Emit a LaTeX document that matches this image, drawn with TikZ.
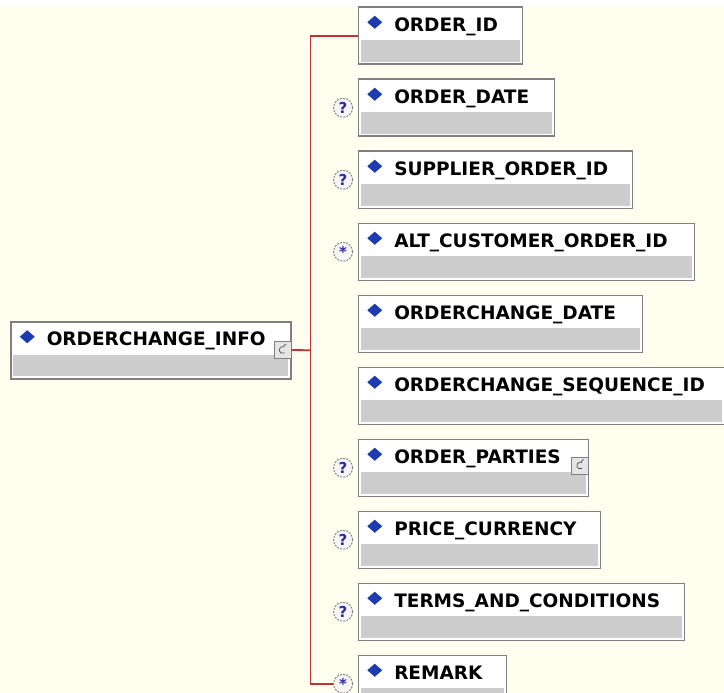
\documentclass[tikz,border=0pt]{standalone}
\usepackage{fontspec}
\setmainfont{DejaVu Sans}
\usetikzlibrary{positioning}
\definecolor{paper}{HTML}{FFFFF0}
\definecolor{frame}{HTML}{7F7F7F}
\definecolor{band}{HTML}{CDCDCD}
\definecolor{wire}{HTML}{C62F33}
\definecolor{dmd}{HTML}{1C3BB0}
\definecolor{mark}{HTML}{2B2B9C}
\hyphenpenalty=10000
\tikzset{
  elem/.style={rectangle, draw=frame, line width=1.5pt, fill=white, anchor=north west,
    inner xsep=0pt, inner ysep=0pt, text height=24pt, text depth=33pt,
    text width=#1, align=left, font=\bfseries\fontsize{18.5}{20}\selectfont,
    execute at begin node=\hspace*{36pt},
    path picture={
      \fill[band] ([xshift=2.5pt,yshift=2.5pt]path picture bounding box.south west)
        rectangle ([xshift=-2.5pt,yshift=-33pt]path picture bounding box.north east);
      \fill[dmd] ([xshift=9pt,yshift=-15pt]path picture bounding box.north west)
        -- ++(7.5pt,6.5pt) -- ++(7.5pt,-6.5pt) -- ++(-7.5pt,-6.5pt) -- cycle;
    }},
  expand/.style={rectangle, draw=frame, line width=0.8pt, fill=black!10, minimum size=17pt, inner sep=0pt,
    path picture={
      \draw[frame!60!black, line width=0.7pt] ([xshift=2pt,yshift=3pt]path picture bounding box.center)
        arc (60:300:3.5pt);
      \draw[frame!60!black, line width=0.7pt] ([xshift=1pt,yshift=4pt]path picture bounding box.center) -- ++(2.5pt,2pt);
    }},
  occ/.style={circle, draw=frame, line width=0.9pt, dash pattern=on 2pt off 1.2pt, fill=black!4,
    minimum size=19pt, inner sep=0pt, text=mark, font=\bfseries\fontsize{15}{15}\selectfont},
  wire/.style={draw=wire, line width=1.8pt},
}

\begin{document}
\begin{tikzpicture}[x=1pt, y=1pt]
  \useasboundingbox (0,0) rectangle (724,-693);
  \fill[paper] (0,-5) rectangle (724,-693);

  % parent element
  \node[elem=280pt] (info) at (10,-321) {ORDERCHANGE\_INFO};
  \node[expand, anchor=east] (infox) at ([yshift=-29pt]info.north east) {};

  % children of the sequence
  \node[elem=164pt] (oid) at (357.5,-6.5) {ORDER\_ID};
  \node[elem=196pt, below=13.5pt of oid.south west, anchor=north west] (odate) {ORDER\_DATE};
  \node[elem=274pt, below=13.5pt of odate.south west, anchor=north west] (suppid) {SUPPLIER\_ORDER\_ID};
  \node[elem=336pt, below=13.5pt of suppid.south west, anchor=north west] (altid) {ALT\_CUSTOMER\_ORDER\_ID};
  \node[elem=284pt, below=13.5pt of altid.south west, anchor=north west] (ocdate) {ORDERCHANGE\_DATE};
  \node[elem=366pt, below=13.5pt of ocdate.south west, anchor=north west] (ocseq) {ORDERCHANGE\_SEQUENCE\_ID};
  \node[elem=230pt, below=13.5pt of ocseq.south west, anchor=north west] (parties) {ORDER\_PARTIES};
  \node[expand, anchor=east] (partiesx) at ([yshift=-27pt]parties.north east) {};
  \node[elem=242pt, below=13.5pt of parties.south west, anchor=north west] (curr) {PRICE\_CURRENCY};
  \node[elem=326pt, below=13.5pt of curr.south west, anchor=north west] (terms) {TERMS\_AND\_CONDITIONS};
  \node[elem=148pt, below=13.5pt of terms.south west, anchor=north west] (remark) {REMARK};

  % occurrence markers
  \node[occ, left=4.5pt of odate.west] (odateq) {?};
  \node[occ, left=4.5pt of suppid.west] (suppidq) {?};
  \node[occ, left=4.5pt of altid.west] (altidq) {\raisebox{-2pt}{*}};
  \node[occ, left=4.5pt of parties.west] (partiesq) {?};
  \node[occ, left=4.5pt of curr.west] (currq) {?};
  \node[occ, left=4.5pt of terms.west] (termsq) {?};
  \node[occ, left=4.5pt of remark.west] (remarkq) {\raisebox{-2pt}{*}};

  \coordinate (hub) at ([xshift=19pt]info.east);
  \draw[wire] (infox.east) -- (hub);
  \draw[wire] (oid.west) -| (hub) |- (remarkq.west);
\end{tikzpicture}
\end{document}
